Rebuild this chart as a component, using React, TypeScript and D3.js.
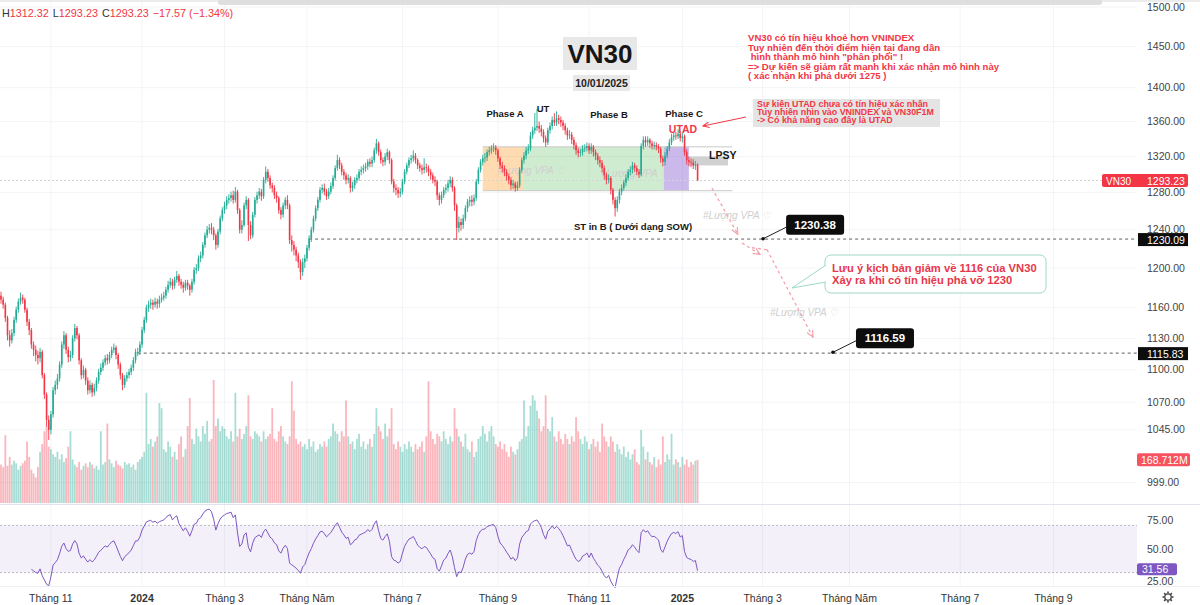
import React from "react"
import * as d3 from "d3"

// daily candles, [open, high, low, close]
const ohlc: [number, number, number, number][] = [
  [1172, 1176, 1164, 1168], [1168, 1171, 1159, 1163], [1163, 1165, 1146, 1150], [1150, 1152, 1128, 1133], [1133, 1138, 1122, 1128],
  [1128, 1139, 1125, 1135], [1135, 1151, 1132, 1148], [1148, 1161, 1145, 1158], [1158, 1169, 1155, 1166], [1166, 1175, 1163, 1170],
  [1170, 1173, 1164, 1168], [1168, 1170, 1155, 1158], [1158, 1160, 1142, 1146], [1146, 1149, 1133, 1138], [1138, 1140, 1120, 1124],
  [1124, 1127, 1113, 1119], [1119, 1123, 1108, 1114], [1114, 1118, 1105, 1111], [1111, 1121, 1107, 1117], [1117, 1119, 1092, 1095],
  [1095, 1097, 1073, 1077], [1077, 1079, 1048, 1054], [1054, 1058, 1036, 1045], [1045, 1062, 1041, 1059], [1059, 1084, 1056, 1081],
  [1081, 1090, 1077, 1086], [1086, 1096, 1082, 1092], [1092, 1108, 1089, 1105], [1105, 1127, 1102, 1124], [1124, 1137, 1120, 1133],
  [1133, 1135, 1115, 1119], [1119, 1122, 1107, 1112], [1112, 1118, 1108, 1114], [1114, 1133, 1111, 1130], [1130, 1144, 1127, 1140],
  [1140, 1142, 1129, 1133], [1133, 1135, 1105, 1109], [1109, 1111, 1091, 1095], [1095, 1104, 1092, 1100], [1100, 1102, 1086, 1090],
  [1090, 1093, 1077, 1081], [1081, 1090, 1078, 1086], [1086, 1088, 1075, 1079], [1079, 1087, 1076, 1083], [1083, 1093, 1080, 1090],
  [1090, 1101, 1087, 1098], [1098, 1106, 1095, 1102], [1102, 1110, 1099, 1107], [1107, 1114, 1104, 1111], [1111, 1115, 1105, 1109],
  [1109, 1117, 1106, 1114], [1114, 1122, 1111, 1119], [1119, 1125, 1116, 1121], [1121, 1123, 1110, 1114], [1114, 1116, 1101, 1105],
  [1105, 1107, 1091, 1095], [1095, 1097, 1081, 1086], [1086, 1095, 1083, 1092], [1092, 1098, 1089, 1095], [1095, 1101, 1092, 1098],
  [1098, 1105, 1095, 1102], [1102, 1112, 1099, 1109], [1109, 1120, 1106, 1117], [1117, 1121, 1113, 1117], [1117, 1127, 1114, 1124],
  [1124, 1141, 1121, 1138], [1138, 1151, 1135, 1148], [1148, 1163, 1145, 1160], [1160, 1167, 1156, 1163], [1163, 1169, 1159, 1165],
  [1165, 1168, 1158, 1163], [1163, 1170, 1160, 1166], [1166, 1169, 1159, 1164], [1164, 1172, 1160, 1168], [1168, 1174, 1165, 1170],
  [1170, 1176, 1167, 1172], [1172, 1181, 1169, 1178], [1178, 1187, 1175, 1183], [1183, 1190, 1180, 1186], [1186, 1189, 1178, 1182],
  [1182, 1191, 1179, 1188], [1188, 1197, 1185, 1192], [1192, 1194, 1182, 1186], [1186, 1189, 1179, 1183], [1183, 1186, 1175, 1180],
  [1180, 1188, 1177, 1185], [1185, 1188, 1178, 1182], [1182, 1184, 1172, 1178], [1178, 1189, 1175, 1186], [1186, 1201, 1183, 1198],
  [1198, 1204, 1194, 1200], [1200, 1213, 1197, 1210], [1210, 1217, 1206, 1213], [1213, 1227, 1210, 1224], [1224, 1237, 1221, 1234],
  [1234, 1244, 1231, 1240], [1240, 1246, 1236, 1242], [1242, 1247, 1235, 1240], [1240, 1243, 1229, 1234], [1234, 1236, 1219, 1224],
  [1224, 1241, 1221, 1238], [1238, 1255, 1235, 1252], [1252, 1264, 1249, 1261], [1261, 1270, 1257, 1266], [1266, 1276, 1262, 1272],
  [1272, 1278, 1268, 1274], [1274, 1281, 1270, 1277], [1277, 1282, 1268, 1272], [1272, 1286, 1269, 1281], [1281, 1283, 1257, 1261],
  [1261, 1263, 1236, 1240], [1240, 1250, 1236, 1245], [1245, 1269, 1243, 1266], [1266, 1276, 1262, 1272], [1272, 1274, 1228, 1245],
  [1245, 1249, 1230, 1234], [1234, 1259, 1231, 1256], [1256, 1275, 1253, 1272], [1272, 1281, 1268, 1277], [1277, 1285, 1273, 1281],
  [1281, 1284, 1271, 1276], [1276, 1297, 1273, 1294], [1294, 1309, 1290, 1303], [1303, 1306, 1292, 1296], [1296, 1299, 1284, 1288],
  [1288, 1291, 1280, 1285], [1285, 1288, 1273, 1277], [1277, 1281, 1269, 1274], [1274, 1276, 1257, 1261], [1261, 1264, 1251, 1256],
  [1256, 1269, 1253, 1266], [1266, 1275, 1262, 1272], [1272, 1277, 1262, 1266], [1266, 1268, 1225, 1229], [1229, 1234, 1217, 1224],
  [1224, 1228, 1213, 1219], [1219, 1222, 1207, 1213], [1213, 1216, 1200, 1206], [1206, 1209, 1188, 1196], [1196, 1210, 1192, 1206],
  [1206, 1214, 1200, 1210], [1210, 1224, 1207, 1221], [1221, 1234, 1218, 1231], [1231, 1243, 1227, 1240], [1240, 1255, 1237, 1252],
  [1252, 1266, 1249, 1263], [1263, 1275, 1260, 1272], [1272, 1286, 1269, 1283], [1283, 1289, 1279, 1285], [1285, 1290, 1277, 1281],
  [1281, 1284, 1272, 1276], [1276, 1285, 1273, 1281], [1281, 1291, 1278, 1287], [1287, 1299, 1284, 1296], [1296, 1310, 1293, 1307],
  [1307, 1322, 1304, 1316], [1316, 1319, 1306, 1310], [1310, 1313, 1299, 1303], [1303, 1306, 1294, 1299], [1299, 1302, 1289, 1294],
  [1294, 1300, 1290, 1296], [1296, 1298, 1280, 1285], [1285, 1292, 1281, 1288], [1288, 1297, 1284, 1294], [1294, 1300, 1290, 1296],
  [1296, 1306, 1293, 1303], [1303, 1309, 1299, 1305], [1305, 1311, 1301, 1307], [1307, 1313, 1303, 1309], [1309, 1317, 1305, 1314],
  [1314, 1318, 1308, 1312], [1312, 1320, 1308, 1316], [1316, 1330, 1313, 1327], [1327, 1340, 1323, 1335], [1335, 1337, 1321, 1325],
  [1325, 1328, 1312, 1316], [1316, 1319, 1309, 1314], [1314, 1324, 1310, 1320], [1320, 1329, 1316, 1325], [1325, 1327, 1312, 1316],
  [1316, 1318, 1289, 1292], [1292, 1295, 1280, 1285], [1285, 1289, 1277, 1283], [1283, 1286, 1274, 1279], [1279, 1285, 1275, 1281],
  [1281, 1295, 1278, 1292], [1292, 1306, 1289, 1303], [1303, 1313, 1300, 1310], [1310, 1319, 1307, 1316], [1316, 1322, 1312, 1318],
  [1318, 1327, 1314, 1321], [1321, 1324, 1312, 1316], [1316, 1318, 1306, 1310], [1310, 1313, 1303, 1307], [1307, 1311, 1300, 1305],
  [1305, 1318, 1301, 1308], [1308, 1312, 1302, 1307], [1307, 1310, 1298, 1303], [1303, 1306, 1294, 1299], [1299, 1302, 1290, 1294],
  [1294, 1298, 1287, 1292], [1292, 1294, 1272, 1277], [1277, 1280, 1266, 1272], [1272, 1281, 1268, 1277], [1277, 1286, 1274, 1283],
  [1283, 1289, 1279, 1285], [1285, 1294, 1281, 1290], [1290, 1298, 1286, 1294], [1294, 1297, 1281, 1285], [1285, 1287, 1260, 1266],
  [1266, 1268, 1229, 1242], [1242, 1254, 1237, 1248], [1248, 1252, 1239, 1245], [1245, 1256, 1241, 1252], [1252, 1266, 1249, 1263],
  [1263, 1273, 1259, 1270], [1270, 1276, 1265, 1272], [1272, 1277, 1265, 1270], [1270, 1278, 1266, 1274], [1274, 1295, 1271, 1292],
  [1292, 1308, 1289, 1305], [1305, 1317, 1302, 1314], [1314, 1322, 1310, 1318], [1318, 1324, 1313, 1319], [1319, 1328, 1315, 1325],
  [1325, 1331, 1321, 1327], [1327, 1333, 1323, 1329], [1329, 1335, 1325, 1330], [1330, 1333, 1322, 1327], [1327, 1329, 1314, 1318],
  [1318, 1320, 1306, 1310], [1310, 1314, 1302, 1307], [1307, 1310, 1298, 1303], [1303, 1306, 1293, 1298], [1298, 1301, 1289, 1294],
  [1294, 1297, 1283, 1288], [1288, 1294, 1284, 1290], [1290, 1292, 1281, 1285], [1285, 1292, 1282, 1288], [1288, 1308, 1285, 1305],
  [1305, 1319, 1302, 1316], [1316, 1325, 1312, 1321], [1321, 1331, 1317, 1327], [1327, 1334, 1323, 1329], [1329, 1348, 1326, 1344],
  [1344, 1354, 1340, 1350], [1350, 1370, 1346, 1353], [1353, 1375, 1349, 1355], [1355, 1360, 1347, 1352], [1352, 1356, 1343, 1348],
  [1348, 1351, 1336, 1341], [1341, 1344, 1331, 1336], [1336, 1353, 1333, 1350], [1350, 1359, 1346, 1355], [1355, 1366, 1351, 1362],
  [1362, 1370, 1355, 1359], [1359, 1372, 1355, 1364], [1364, 1368, 1357, 1362], [1362, 1366, 1354, 1359], [1359, 1362, 1350, 1355],
  [1355, 1358, 1345, 1350], [1350, 1353, 1339, 1344], [1344, 1350, 1340, 1345], [1345, 1348, 1334, 1339], [1339, 1342, 1328, 1333],
  [1333, 1336, 1322, 1327], [1327, 1330, 1319, 1324], [1324, 1329, 1320, 1325], [1325, 1333, 1321, 1329], [1329, 1334, 1325, 1330],
  [1330, 1336, 1326, 1332], [1332, 1335, 1323, 1327], [1327, 1335, 1323, 1331], [1331, 1333, 1320, 1325], [1325, 1328, 1316, 1321],
  [1321, 1324, 1311, 1316], [1316, 1320, 1308, 1313], [1313, 1316, 1302, 1307], [1307, 1310, 1294, 1299], [1299, 1302, 1289, 1294],
  [1294, 1300, 1290, 1296], [1296, 1298, 1278, 1283], [1283, 1285, 1267, 1272], [1272, 1275, 1254, 1263], [1263, 1276, 1259, 1272],
  [1272, 1284, 1268, 1281], [1281, 1289, 1277, 1285], [1285, 1294, 1282, 1291], [1291, 1300, 1287, 1296], [1296, 1306, 1293, 1303],
  [1303, 1309, 1299, 1305], [1305, 1314, 1301, 1310], [1310, 1313, 1303, 1307], [1307, 1310, 1299, 1303], [1303, 1306, 1296, 1300],
  [1300, 1335, 1298, 1332], [1332, 1343, 1328, 1339], [1339, 1343, 1331, 1336], [1336, 1343, 1332, 1339], [1339, 1341, 1330, 1335],
  [1335, 1338, 1328, 1332], [1332, 1337, 1328, 1333], [1333, 1336, 1327, 1331], [1331, 1334, 1324, 1329], [1329, 1331, 1313, 1318],
  [1318, 1321, 1309, 1314], [1314, 1325, 1310, 1321], [1321, 1332, 1318, 1329], [1329, 1340, 1326, 1336], [1336, 1346, 1333, 1342],
  [1342, 1348, 1338, 1344], [1344, 1348, 1339, 1343], [1343, 1351, 1340, 1346], [1346, 1349, 1337, 1341], [1341, 1347, 1336, 1343],
  [1343, 1345, 1321, 1325], [1325, 1328, 1311, 1316], [1316, 1320, 1309, 1314], [1314, 1318, 1308, 1313], [1313, 1317, 1306, 1310],
  [1310, 1315, 1305, 1310.8], [1310.8, 1312.32, 1293.23, 1293.23],
]

// volume, millions of shares
const volumes: number[] = [
  150, 140, 265, 145, 180, 150, 165, 155, 130, 145,
  155, 165, 240, 180, 130, 115, 100, 140, 200, 230,
  280, 300, 220, 210, 190, 180, 200, 170, 190, 160,
  175, 220, 280, 170, 150, 140, 160, 130, 145, 155,
  140, 160, 150, 135, 145, 130, 280, 150, 160, 310,
  170, 155, 140, 165, 150, 145, 135, 160, 150, 155,
  140, 150, 130, 160, 170, 180, 200, 430, 230, 250,
  220, 240, 260, 390, 370, 210, 200, 240, 220, 180,
  200, 170, 230, 260, 180, 210, 300, 410, 250, 230,
  290, 260, 240, 300, 270, 320, 240, 250, 480, 300,
  330, 280, 300, 290, 260, 250, 280, 240, 430, 260,
  290, 250, 270, 300, 420, 260, 250, 280, 270, 260,
  240, 280, 250, 260, 270, 370, 250, 240, 280, 300,
  260, 240, 230, 260, 475, 360, 250, 230, 240, 220,
  230, 210, 250, 220, 240, 200, 210, 230, 220, 240,
  220, 250, 260, 310, 280, 270, 240, 280, 260, 400,
  260, 230, 240, 210, 250, 270, 220, 240, 210, 230,
  250, 220, 270, 370, 300, 280, 250, 310, 260, 290,
  370, 230, 210, 240, 220, 200, 230, 210, 240, 220,
  200, 230, 210, 220, 240, 200, 260, 475, 280, 250,
  230, 270, 260, 240, 280, 250, 230, 260, 240, 370,
  290, 260, 240, 220, 270, 210, 200, 240, 180, 200,
  250, 260, 300, 270, 240, 280, 300, 260, 230, 220,
  240, 210, 230, 200, 180, 220, 200, 190, 210, 240,
  250, 400, 260, 300, 380, 420, 400, 360, 330, 280,
  300, 420, 290, 280, 335, 260, 240, 280, 250, 230,
  270, 250, 230, 260, 240, 335, 280, 250, 230, 260,
  240, 210, 230, 250, 220, 240, 200, 310, 260, 240,
  220, 260, 240, 200, 230, 210, 190, 220, 180, 200,
  170, 190, 210, 160, 150, 285, 220, 170, 200, 160,
  150, 180, 140, 170, 150, 260, 160, 190, 170, 270,
  150, 170, 160, 140, 180, 150, 170, 140, 160, 150, 165, 168.712,
]

const priceTicks = [1500, 1450, 1400, 1360, 1320, 1280, 1240, 1200, 1160, 1130, 1100, 1070, 1045, 999]
const rsiTicks = [75, 50, 25]
const rsiBands = [70, 30]
const timeLabels = ["Tháng 11", "2024", "Tháng 3", "Tháng Năm", "Tháng 7", "Tháng 9", "Tháng 11", "2025", "Tháng 3", "Tháng Năm", "Tháng 7", "Tháng 9"]
const timeBars = [23, 65, 103, 141, 185, 229, 271, 314, 351, 391, 442, 485]

// Wyckoff phase boxes: [fromBar, toBar, topPrice, bottomPrice, fill]
const phaseBoxes: [number, number, number, number, string][] = [
  [222, 240.5, 1331, 1282, "rgba(255,160,50,0.38)"],
  [240.5, 305.5, 1331, 1282, "rgba(96,190,100,0.3)"],
  [305.5, 317, 1331, 1282, "rgba(140,100,210,0.45)"],
]
const lpsyBox: [number, number, number, number] = [317, 335, 1320, 1310]
const boxEdgeEnd = 337

// horizontal levels [price, fromBar]
const levels: [number, number][] = [
  [1230.09, 142],
  [1115.83, 63],
]
// callouts [price, bar]
const callouts: [number, number][] = [
  [1230.38, 351.2],
  [1116.59, 383.4],
]
// projected path segments [bar1, price1, bar2, price2, arrow]
const projection: [number, number, number, number, boolean][] = [
  [327.6, 1285, 339.6, 1235, true],
  [341.5, 1226, 349.8, 1214, true],
  [346.1, 1221, 353, 1219, false],
  [353, 1219, 374.2, 1131, true],
]

const noteLines = [
  "VN30 có tín hiệu khoẻ hơn VNINDEX",
  "Tuy nhiên đến thời điểm hiện tại đang dần",
  " hình thành mô hình \"phân phối\" !",
  "=> Dự kiến sẽ giảm rất mạnh khi xác nhận mô hình này",
  "( xác nhận khi phá dưới 1275 )",
]
const utadLines = [
  "Sự kiện UTAD chưa có tín hiệu xác nhận",
  "Tuy nhiên nhìn vào VNINDEX và VN30F1M",
  "-> Có khả năng cao đây là UTAD",
]
const calloutLines = ["Lưu ý kịch bản giảm về 1116 của VN30", "Xảy ra khi có tín hiệu phá vỡ 1230"]
const watermarks: [number, number][] = [
  [497, 174],
  [601, 177],
  [703, 219],
  [770, 316],
]

const W = 1200
const H = 605
const PLOT_R = 1137
const UP = "#22ab94"
const DOWN = "#f23645"
const FONT = "'Liberation Sans', Arial, sans-serif"

export default function App() {
  const n = ohlc.length
  const x = d3.scaleLinear().domain([0, n - 1]).range([1, 1 + 2.17 * (n - 1)])
  const y = d3.scaleLog().domain([1500, 999]).range([7, 482.5])
  const vy = d3.scaleLinear().domain([0, 480]).range([503, 380])
  const ry = d3.scaleLinear().domain([0, 100]).range([608, 490])

  const closes = ohlc.map((d) => d[3])
  const rsi: (number | null)[] = closes.map(() => null)
  let ag = 0
  let al = 0
  for (let i = 1; i < n; i++) {
    const ch = closes[i] - closes[i - 1]
    const g = Math.max(ch, 0)
    const l = Math.max(-ch, 0)
    if (i <= 14) {
      ag += g / 14
      al += l / 14
      if (i === 14) rsi[i] = 100 - 100 / (1 + ag / al)
    } else {
      ag = (ag * 13 + g) / 14
      al = (al * 13 + l) / 14
      rsi[i] = al === 0 ? 100 : 100 - 100 / (1 + ag / al)
    }
  }
  const rsiLine = d3
    .line<number | null>()
    .defined((d) => d != null)
    .x((_, i) => x(i))
    .y((d) => ry(d as number))(rsi)
  const lastRsi = rsi[n - 1] as number

  const last = ohlc[n - 1]
  const prevClose = ohlc[n - 2][3]
  const chg = last[3] - prevClose
  const pct = (chg / prevClose) * 100
  const lastVol = volumes[n - 1]

  return (
    <svg width={W} height={H} style={{ position: "fixed", left: 0, top: 0, background: "#fff" }} fontFamily={FONT}>
      <defs>
        <marker id="arrRed" viewBox="0 0 10 10" refX="9" refY="5" markerWidth="7" markerHeight="7" orient="auto">
          <path d="M0,1 L9,5 L0,9" fill="none" stroke="#f23645" strokeWidth="1.4" />
        </marker>
        <marker id="arrPink" viewBox="0 0 10 10" refX="9" refY="5" markerWidth="6" markerHeight="6" orient="auto">
          <path d="M0,1 L9,5 L0,9" fill="none" stroke="#f5a3aa" strokeWidth="1.5" />
        </marker>
      </defs>

      {/* grid */}
      {priceTicks.map((t) => (
        <line key={"g" + t} x1={0} x2={PLOT_R} y1={y(t)} y2={y(t)} stroke="#f3f4f7" />
      ))}
      {timeBars.map((b, i) => (
        <line key={"v" + i} x1={x(b)} x2={x(b)} y1={0} y2={587} stroke="#f3f4f7" />
      ))}

      {/* top toolbar shadow */}
      <rect x={0} y={0} width={W} height={2} fill="#ececec" />
      <rect x={218} y={-4} width={884} height={9} rx={3} fill="#dedede" />

      {/* volume */}
      {volumes.map((v, i) => {
        const [o, , , c] = ohlc[i]
        return (
          <rect
            key={"vol" + i}
            x={x(i) - 0.9}
            width={1.8}
            y={vy(v)}
            height={vy(0) - vy(v)}
            fill={c >= o ? "rgba(34,171,148,0.4)" : "rgba(242,54,69,0.36)"}
          />
        )
      })}

      {/* phase boxes */}
      {phaseBoxes.map(([a, b, t, btm, fill], i) => (
        <rect key={"pb" + i} x={x(a)} width={x(b) - x(a)} y={y(t)} height={y(btm) - y(t)} fill={fill} />
      ))}
      <line x1={x(222)} x2={x(boxEdgeEnd)} y1={y(1331)} y2={y(1331)} stroke="#c8c8c8" />
      <line x1={x(222)} x2={x(boxEdgeEnd)} y1={y(1282)} y2={y(1282)} stroke="#c8c8c8" />
      <rect
        x={x(lpsyBox[0])}
        width={x(lpsyBox[1]) - x(lpsyBox[0])}
        y={y(lpsyBox[2])}
        height={y(lpsyBox[3]) - y(lpsyBox[2])}
        fill="rgba(140,140,140,0.4)"
      />

      {/* last price line */}
      <line x1={0} x2={PLOT_R} y1={y(last[3])} y2={y(last[3])} stroke="#d5d5d5" strokeDasharray="2,2" />

      {/* level lines */}
      {levels.map(([p, from], i) => (
        <line key={"lv" + i} x1={x(from)} x2={PLOT_R} y1={y(p)} y2={y(p)} stroke="#333" strokeDasharray="3,3" strokeWidth={0.8} />
      ))}

      {/* watermarks */}
      {watermarks.map(([wx, wy], i) => (
        <text key={"wm" + i} x={wx} y={wy} fontSize={10} fontStyle="italic" fill="#cfcfcf">
          #Lượng VPA ♡
        </text>
      ))}

      {/* candles */}
      {ohlc.map(([o, h, l, c], i) => {
        const col = c >= o ? UP : DOWN
        const cx = x(i)
        const top = y(Math.max(o, c))
        const bh = Math.max(0.8, Math.abs(y(o) - y(c)))
        return (
          <g key={"c" + i}>
            <line x1={cx} x2={cx} y1={y(h)} y2={y(l)} stroke={col} strokeWidth={0.9} />
            <rect x={cx - 0.8} width={1.6} y={top} height={bh} fill={col} />
          </g>
        )
      })}

      {/* projected path */}
      {projection.map(([b1, p1, b2, p2, arrow], i) => (
        <line
          key={"pj" + i}
          x1={x(b1)}
          y1={y(p1)}
          x2={x(b2)}
          y2={y(p2)}
          stroke="#f5a3aa"
          strokeWidth={1.3}
          strokeDasharray="3,3"
          markerEnd={arrow ? "url(#arrPink)" : undefined}
        />
      ))}

      {/* callouts with value labels */}
      {callouts.map(([p, b], i) => {
        const px = x(b)
        const py = y(p)
        const bx = px + 23
        const by = py - 24
        return (
          <g key={"co" + i}>
            <line x1={px} y1={py} x2={bx + 1} y2={by + 12} stroke="#222" strokeWidth={1} />
            <circle cx={px} cy={py} r={1.8} fill="#111" />
            <rect x={bx} y={by} width={58} height={20} rx={3} fill="#0d0d0d" />
            <text x={bx + 29} y={by + 14} textAnchor="middle" fontSize={11.5} fontWeight="bold" fill="#fff">
              {p.toFixed(2)}
            </text>
          </g>
        )
      })}

      {/* scenario callout */}
      <rect x={825} y={255} width={221} height={38} rx={6} fill="#fff" stroke="#9ed9c8" />
      <path d="M826,265 L792,288 L826,282" fill="#fff" stroke="#9ed9c8" />
      <line x1={826} x2={826} y1={266} y2={281} stroke="#fff" strokeWidth={1.5} />
      {calloutLines.map((t, i) => (
        <text key={"cl" + i} x={832} y={272 + i * 12} fontSize={11.2} fontWeight="bold" fill="#e8374a">
          {t}
        </text>
      ))}

      {/* title */}
      <rect x={563} y={37} width={74} height={33} fill="#e8e8e9" />
      <text x={600} y={63} textAnchor="middle" fontSize={26} fontWeight="bold" fill="#161616">
        VN30
      </text>
      <rect x={573} y={75} width={57} height={16} fill="#e8e8e9" />
      <text x={601.5} y={87} textAnchor="middle" fontSize={10.5} fontWeight="bold" fill="#222">
        10/01/2025
      </text>

      {/* phase labels */}
      {[
        ["Phase A", 505, 117],
        ["UT", 543, 112],
        ["Phase B", 609, 118],
        ["Phase C", 684, 117],
      ].map(([t, tx, ty]) => (
        <text key={t as string} x={tx as number} y={ty as number} textAnchor="middle" fontSize={9.5} fontWeight="bold" fill="#161616">
          {t}
        </text>
      ))}
      <text x={683} y={133} textAnchor="middle" fontSize={10.5} fontWeight="bold" fill="#f23645">
        UTAD
      </text>
      <text x={709} y={159} fontSize={10.5} fontWeight="bold" fill="#161616">
        LPSY
      </text>
      <text x={633} y={230} textAnchor="middle" fontSize={9.5} fontWeight="bold" fill="#161616">
        ST in B ( Dưới dạng SOW)
      </text>

      {/* red note */}
      {noteLines.map((t, i) => (
        <text key={"n" + i} x={748} y={41 + i * 9.6} fontSize={9.6} fontWeight="bold" fill="#f23645" style={{ whiteSpace: "pre" }}>
          {t}
        </text>
      ))}

      {/* UTAD note */}
      <rect x={753} y={99} width={187} height={28} fill="#e4e4e4" />
      {utadLines.map((t, i) => (
        <text key={"u" + i} x={757} y={106.5 + i * 8.4} fontSize={8.9} fontWeight="bold" fill="#f23645">
          {t}
        </text>
      ))}
      <line x1={746} y1={117} x2={703} y2={126} stroke="#f23645" strokeWidth={1} markerEnd="url(#arrRed)" />

      {/* header */}
      <text x={2} y={17} fontSize={10.8}>
        <tspan fill="#333">H</tspan>
        <tspan fill={DOWN}>{last[1].toFixed(2)}</tspan>
        <tspan fill="#333" dx={4}>L</tspan>
        <tspan fill={DOWN}>{last[2].toFixed(2)}</tspan>
        <tspan fill="#333" dx={4}>C</tspan>
        <tspan fill={DOWN}>{last[3].toFixed(2)}</tspan>
        <tspan fill={DOWN} dx={4}>
          {"−" + Math.abs(chg).toFixed(2) + " (−" + Math.abs(pct).toFixed(2) + "%)"}
        </tspan>
      </text>

      {/* price axis */}
      {priceTicks.map((t) => (
        <text key={"pt" + t} x={1147} y={y(t) + 3.5} fontSize={10.5} fill="#444">
          {t.toFixed(2)}
        </text>
      ))}
      <rect x={1102} y={y(last[3]) - 6.5} width={86} height={13} rx={2} fill={DOWN} />
      <text x={1106} y={y(last[3]) + 4} fontSize={10} fill="#fff">
        VN30
      </text>
      <text x={1147} y={y(last[3]) + 4} fontSize={10.5} fill="#fff">
        {last[3].toFixed(2)}
      </text>
      {levels.map(([p], i) => (
        <g key={"ll" + i}>
          <rect x={1138} y={y(p) - 6} width={50} height={13} fill="#0d0d0d" />
          <text x={1147} y={y(p) + 4.5} fontSize={10.5} fill="#fff">
            {p.toFixed(2)}
          </text>
        </g>
      ))}
      <rect x={1137} y={vy(lastVol) - 6.5} width={53} height={13} rx={2} fill="#f7525f" />
      <text x={1141} y={vy(lastVol) + 4} fontSize={10.5} fill="#fff">
        {lastVol.toFixed(3) + "M"}
      </text>

      {/* pane separator */}
      <line x1={0} x2={W} y1={504.5} y2={504.5} stroke="#e0e3eb" />

      {/* RSI pane */}
      <rect x={0} width={PLOT_R} y={ry(rsiBands[0])} height={ry(rsiBands[1]) - ry(rsiBands[0])} fill="rgba(126,87,194,0.09)" />
      {rsiBands.map((b) => (
        <line key={"rb" + b} x1={0} x2={PLOT_R} y1={ry(b)} y2={ry(b)} stroke="#b8b8c0" strokeDasharray="2,2" />
      ))}
      <path d={rsiLine ?? ""} fill="none" stroke="#7e57c2" strokeWidth={1} />
      {rsiTicks.map((t) => (
        <text key={"rt" + t} x={1147} y={ry(t) + (t === 25 ? 6 : 4)} fontSize={10.5} fill="#444">
          {t.toFixed(2)}
        </text>
      ))}
      <rect x={1137} y={ry(lastRsi) - 7.5} width={40} height={12} rx={2} fill="#7e57c2" />
      <text x={1142} y={ry(lastRsi) + 2.5} fontSize={10.5} fill="#fff">
        {lastRsi.toFixed(2)}
      </text>

      <line x1={0} x2={W} y1={586.5} y2={586.5} stroke="#eef0f3" />

      {/* time axis */}
      {timeBars.map((b, i) => {
        const lbl = timeLabels[i]
        const bold = /^\d{4}$/.test(lbl)
        return (
          <text key={"tl" + i} x={x(b)} y={602} textAnchor="middle" fontSize={10.5} fontWeight={bold ? "bold" : "normal"} fill="#333">
            {lbl}
          </text>
        )
      })}

      {/* settings icon */}
      <g transform="translate(1168,597)" stroke="#444" fill="none">
        <circle r={3.2} strokeWidth={1.3} />
        {d3.range(8).map((k) => {
          const a = (k * Math.PI) / 4
          return <line key={"gi" + k} x1={Math.cos(a) * 3.5} y1={Math.sin(a) * 3.5} x2={Math.cos(a) * 5.5} y2={Math.sin(a) * 5.5} strokeWidth={1.6} />
        })}
      </g>
    </svg>
  )
}
